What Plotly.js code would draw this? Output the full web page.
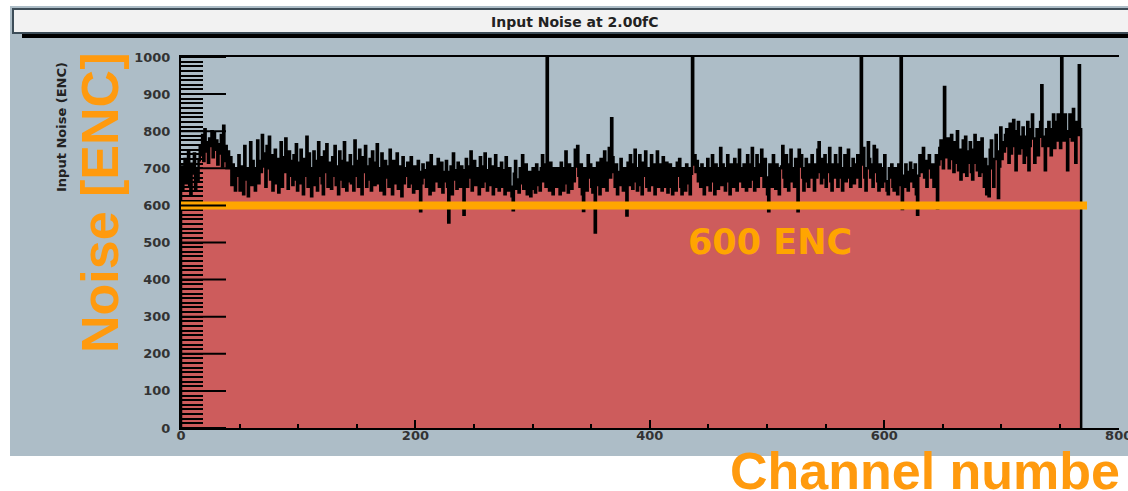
<!DOCTYPE html>
<html>
<head>
<meta charset="utf-8">
<script src="https://cdn.plot.ly/plotly-3.0.1.min.js"></script>
<style>html,body{margin:0;padding:0;background:#fff;}#chart{width:1128px;height:491px;}</style>
</head>
<body>
<div id="chart"></div>
<script>
// Input noise per channel (ENC), channels 0-255
const noiseA = [
705,640,690,725,660,700,748,655,630,712,686,740,645,700,668,722,
760,735,790,720,805,745,770,715,780,760,800,730,795,750,775,710,
765,740,790,705,815,720,760,700,745,700,730,655,710,685,640,700,
680,735,640,705,690,630,760,670,700,625,690,770,655,720,680,640,
700,775,660,720,690,790,705,740,650,760,700,785,670,735,640,710,
750,660,725,635,700,770,650,730,690,780,705,645,745,680,720,655,
735,670,765,640,715,660,750,700,630,725,680,785,650,740,690,625,
700,745,655,720,640,770,680,730,660,630,745,690,765,650,715,670,
645,730,680,760,655,705,630,745,670,720,650,770,690,640,715,665,
735,660,705,640,775,680,720,650,750,675,630,730,690,760,650,705,
670,725,640,745,690,655,715,765,660,700,640,740,685,630,720,675,
705,650,750,680,630,720,690,660,740,645,705,680,625,730,660,700,
680,715,650,690,730,660,635,705,685,645,720,690,584,660,710,675,
695,650,715,670,630,735,680,640,705,665,690,725,650,680,715,635,
690,665,720,650,554,690,705,630,740,670,695,645,715,675,650,705,
665,575,695,725,650,705,675,745,640,690,720,655,700,670,630,730
];
// channels 256-511
const noiseB = [
690,650,705,740,665,640,695,725,655,705,630,690,735,650,700,640,
680,715,650,695,630,730,665,640,700,650,625,587,685,720,645,670,
635,700,660,735,645,680,710,630,655,690,625,675,700,645,635,710,
655,690,640,700,735,665,710,650,1000,690,640,715,655,630,700,665,
650,700,660,630,715,670,640,700,745,660,635,710,680,645,700,665,
750,705,760,680,650,710,630,585,700,665,640,735,675,710,650,635,
700,527,655,715,670,630,725,680,650,745,690,640,715,755,675,835,
730,690,650,710,630,690,655,725,670,640,700,665,573,715,655,735,
680,645,710,750,665,640,700,735,655,630,715,680,745,650,700,640,
695,735,655,710,630,685,745,650,710,690,640,730,675,650,715,635,
685,710,650,630,700,665,640,715,680,725,650,630,700,665,640,710,
660,700,630,685,1000,710,735,690,720,665,700,650,710,675,630,700,
655,725,675,640,700,735,665,630,710,680,645,700,755,655,710,680,
640,700,735,665,630,710,680,650,725,690,640,710,750,665,700,650,
710,675,640,735,690,650,710,755,670,640,700,735,650,710,680,750,
695,650,725,675,630,584,710,690,650,735,675,645,710,665,630,700
];
// channels 512-767
const noiseC = [
705,760,675,650,735,690,640,710,750,665,700,650,725,675,584,750,
705,735,675,640,700,725,665,650,710,675,735,690,640,710,675,750,
770,690,660,725,675,735,650,710,690,755,665,640,710,675,735,690,
650,710,755,675,640,700,735,665,710,750,675,650,700,725,660,710,
675,735,690,650,1000,710,755,675,640,700,770,725,675,710,650,760,
690,750,665,640,710,675,650,700,735,665,640,630,700,675,710,650,
640,700,675,630,710,655,1000,590,680,650,710,690,640,680,715,665,
695,650,710,630,575,680,735,705,690,755,675,720,650,700,735,705,
675,710,650,695,735,592,710,755,775,725,700,919,730,755,780,700,
725,790,745,690,770,715,800,695,750,670,725,775,690,785,680,745,
715,770,690,670,750,790,715,695,770,680,735,780,690,650,725,630,
705,625,750,775,700,650,725,790,745,620,705,810,725,770,745,790,
805,760,715,820,740,785,830,760,695,800,825,740,785,755,810,715,
785,735,825,695,760,805,845,780,715,765,805,735,785,825,924,760,
785,695,805,760,825,780,735,805,845,755,825,775,845,800,755,1000,
825,775,845,800,695,785,845,820,775,860,800,715,825,790,978,805
];
const xTickVals = [0, 200, 400, 600, 800];
const yTickVals = [0, 100, 200, 300, 400, 500, 600, 700, 800, 900, 1000];
const threshold = 600;
const thresholdEnd = 773;

const noise = noiseA.concat(noiseB, noiseC);
// step outline built from the bin edges
const xs = [0], ys = [0];
for (let i = 0; i < noise.length; i++) { xs.push(i); ys.push(noise[i]); }
xs.push(noise.length); ys.push(noise[noise.length - 1]);
xs.push(noise.length); ys.push(0);

const W = 1128, H = 491, L = 181, R = 9, T = 57, B = 63;
const pw = W - L - R, ph = H - T - B;
const px = x => (x - L) / pw;
const py = y => (H - B - y) / ph;

const orange = '#ff9a0e';
const tickFont = {family: 'DejaVu Sans, sans-serif', size: 13, color: '#333', weight: 700};

const trace = {
  type: 'scatter', mode: 'lines', x: xs, y: ys,
  line: {shape: 'hv', color: '#000', width: 2.5},
  fill: 'tozeroy', fillcolor: '#cd5c5c',
  hoverinfo: 'skip', showlegend: false
};

// long ROOT-style major ticks on the y axis, one per labelled value
const majorTickShapes = yTickVals.map(v => ({
  type: 'line', xref: 'paper', yref: 'y', x0: 0, x1: 45 / pw, y0: v, y1: v,
  line: {color: '#000', width: 2}, layer: 'above'
}));

const layout = {
  width: W, height: H,
  margin: {l: L, r: R, t: T, b: B, pad: 0},
  paper_bgcolor: '#ffffff', plot_bgcolor: '#adbdc7',
  showlegend: false,
  xaxis: {
    range: [0, 800.3], tickvals: xTickVals, ticktext: xTickVals.map(String),
    ticks: 'inside', ticklen: 8, tickwidth: 2, tickcolor: '#000',
    showline: true, linecolor: '#000', linewidth: 2, mirror: true,
    showgrid: false, zeroline: false, tickfont: tickFont, ticklabelstandoff: -6,
    ticklabeloverflow: 'allow',
    minor: {dtick: 50, tick0: 0, ticks: 'inside', ticklen: 4, tickwidth: 2, tickcolor: '#000', showgrid: false}
  },
  yaxis: {
    range: [0, 1000], tickvals: yTickVals, ticktext: yTickVals.map(String),
    ticks: 'inside', ticklen: 22, tickwidth: 2, tickcolor: '#000',
    showline: true, linecolor: '#000', linewidth: 2,
    showgrid: false, zeroline: false, tickfont: tickFont, ticklabelstandoff: 6,
    minor: {dtick: 12.5, tick0: 0, ticks: 'inside', ticklen: 22, tickwidth: 2, tickcolor: '#000', showgrid: false}
  },
  shapes: [
    {type: 'rect', xref: 'paper', yref: 'paper', x0: px(10), x1: px(1140), y0: py(456), y1: py(6),
     fillcolor: '#adbdc7', line: {width: 0}, layer: 'below'},
    {type: 'rect', xref: 'paper', yref: 'paper', x0: px(22), x1: px(1140), y0: py(38), y1: py(14),
     fillcolor: '#000', line: {width: 0}, layer: 'below'},
    {type: 'rect', xref: 'paper', yref: 'paper', x0: px(13), x1: px(1140), y0: py(33), y1: py(9),
     fillcolor: '#f2f2f2', line: {color: '#3d4d58', width: 2}, layer: 'below'},
    {type: 'line', xref: 'x', yref: 'y', x0: 0, x1: thresholdEnd, y0: threshold, y1: threshold,
     line: {color: '#ffa500', width: 8}, layer: 'above'}
  ].concat(majorTickShapes),
  annotations: [
    {xref: 'paper', yref: 'paper', x: px(575), y: py(22), xanchor: 'center', yanchor: 'middle',
     text: 'Input Noise at 2.00fC', showarrow: false,
     font: {family: 'DejaVu Sans, sans-serif', size: 14, color: '#222', weight: 700}},
    {xref: 'paper', yref: 'paper', x: px(62), y: py(127), xanchor: 'center', yanchor: 'middle',
     text: 'Input Noise (ENC)', textangle: -90, showarrow: false,
     font: {family: 'DejaVu Sans, sans-serif', size: 13, color: '#222', weight: 700}},
    {xref: 'paper', yref: 'paper', x: px(100), y: py(203), xanchor: 'center', yanchor: 'middle',
     text: 'Noise [ENC]', textangle: -90, showarrow: false,
     font: {family: 'Liberation Sans, Arial, sans-serif', size: 52, color: orange, weight: 700}},
    {xref: 'paper', yref: 'paper', x: px(770), y: py(242), xanchor: 'center', yanchor: 'middle',
     text: threshold + ' ENC', showarrow: false,
     font: {family: 'DejaVu Sans, sans-serif', size: 35, color: '#ffa500', weight: 700}},
    {xref: 'paper', yref: 'paper', x: px(728), y: py(471), xanchor: 'left', yanchor: 'middle',
     text: 'Channel numbe', showarrow: false,
     font: {family: 'Liberation Sans, Arial, sans-serif', size: 52, color: orange, weight: 700}}
  ]
};

Plotly.newPlot('chart', [trace], layout, {staticPlot: true, displayModeBar: false});
</script>
</body>
</html>
